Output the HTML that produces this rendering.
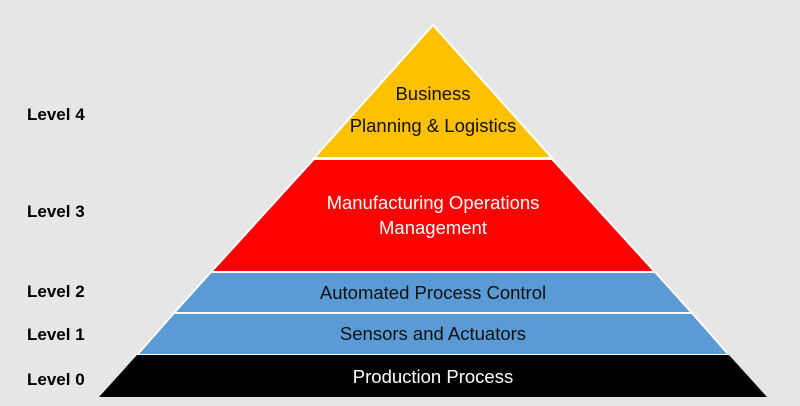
<!DOCTYPE html>
<html><head><style>
body{margin:0;background:#e7e6e6;}
svg{display:block}
text{font-family:"Liberation Sans",sans-serif;}
</style></head><body>
<svg width="800" height="406" viewBox="0 0 800 406">
<rect width="800" height="406" fill="#e7e6e6"/>
<g stroke="#ffffff" stroke-width="2">
<polygon points="433,25 552,158 314,158" fill="#ffc000"/>
<polygon points="314,159 552,159 655,272 211,272" fill="#ff0000"/>
<polygon points="211,272 655,272 692,313 174,313" fill="#5b9bd5"/>
<polygon points="174,313 692,313 729,355 137,355" fill="#5b9bd5"/>
<polygon points="137,355 729,355 767,397 99,397" fill="#000000" stroke="none"/>
</g>
<g font-size="18.5" text-anchor="middle">
<text x="433" y="100" fill="#111">Business</text>
<text x="433" y="132" fill="#111">Planning &amp; Logistics</text>
<text x="433" y="209" fill="#fff">Manufacturing Operations</text>
<text x="433" y="234" fill="#fff">Management</text>
<text x="433" y="299" fill="#111">Automated Process Control</text>
<text x="433" y="340" fill="#111">Sensors and Actuators</text>
<text x="433" y="383" fill="#fff">Production Process</text>
</g>
<g font-size="17" font-weight="bold" fill="#000">
<text x="27" y="120">Level 4</text>
<text x="27" y="217">Level 3</text>
<text x="27" y="297">Level 2</text>
<text x="27" y="340">Level 1</text>
<text x="27" y="385">Level 0</text>
</g>
</svg>
</body></html>
